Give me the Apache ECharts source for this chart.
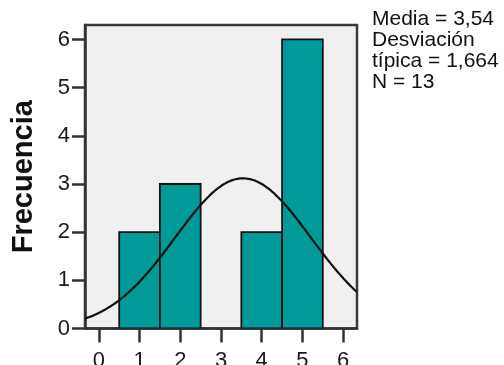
<!DOCTYPE html>
<html>
<head>
<meta charset="utf-8">
<script src="https://cdn.jsdelivr.net/npm/echarts@6/dist/echarts.min.js"></script>
<style>
  html, body { margin: 0; padding: 0; background: #ffffff; }
  #chart { width: 504px; height: 365px; }
</style>
</head>
<body>
<div id="chart"></div>
<script>
// Histogram bins (centres) and their frequencies
const binCenters = [1, 2, 3, 4, 5];
const frequencies = [2, 3, 0, 2, 6];
const binWidth = 1;

// Summary statistics shown beside the plot
const mean = 3.54;
const stdDev = 1.664;
const sampleSize = 13;
const statLines = ['Media = 3,54', 'Desviación', 'típica = 1,664', 'N = 13'];

// Axis ticks
const xTicks = [0, 1, 2, 3, 4, 5, 6];
const yTicks = [0, 1, 2, 3, 4, 5, 6];
const xRange = [-0.34, 6.34];
const yRange = [0, 6.3];

// Fitted normal curve scaled to counts: N * binWidth * pdf(x; mean, sd)
const curve = [];
const steps = 140;
for (let i = 0; i <= steps; i++) {
  const x = xRange[0] + (xRange[1] - xRange[0]) * i / steps;
  const z = (x - mean) / stdDev;
  const y = sampleSize * binWidth * Math.exp(-0.5 * z * z) / (stdDev * Math.sqrt(2 * Math.PI));
  curve.push([x, y]);
}

const barData = binCenters.map((c, i) => [c, frequencies[i]]);

const chart = echarts.init(document.getElementById('chart'), null, { renderer: 'canvas' });
const font = '"Liberation Sans", Arial, sans-serif';

chart.setOption({
  animation: false,
  grid: {
    left: 85, top: 25, width: 272, height: 303.5,
    outerBoundsMode: 'none',
    containLabel: false,
    show: true,
    backgroundColor: '#f0f0f0',
    borderColor: '#3a3a3a',
    borderWidth: 2.5
  },
  xAxis: {
    type: 'value',
    min: xRange[0], max: xRange[1],
    splitLine: { show: false },
    axisLine: { show: true, onZero: false, lineStyle: { color: '#333', width: 2.5 } },
    axisTick: { show: true, customValues: xTicks, length: 14, lineStyle: { color: '#333', width: 2.5 } },
    axisLabel: { customValues: xTicks, fontSize: 22, fontFamily: font, color: '#1a1a1a', margin: 21 }
  },
  yAxis: {
    type: 'value',
    min: yRange[0], max: yRange[1],
    splitLine: { show: false },
    name: 'Frecuencia',
    nameLocation: 'middle',
    nameGap: 47,
    nameTextStyle: { fontSize: 29, fontWeight: 'bold', fontFamily: font, color: '#111' },
    axisLine: { show: true, onZero: false, lineStyle: { color: '#333', width: 2.5 } },
    axisTick: { show: true, customValues: yTicks, length: 13, lineStyle: { color: '#333', width: 2.5 } },
    axisLabel: { customValues: yTicks, fontSize: 22, fontFamily: font, color: '#1a1a1a', margin: 15, padding: [5, 0, 0, 0] }
  },
  graphic: [{
    type: 'text',
    left: 372,
    top: 9,
    style: {
      text: statLines.join('\n'),
      font: '21px ' + font,
      lineHeight: 21,
      fill: '#111'
    }
  }],
  series: [
    {
      type: 'custom',
      data: barData,
      clip: true,
      renderItem: function (params, api) {
        const c = api.value(0);
        const v = api.value(1);
        if (!v) return null;
        const p0 = api.coord([c - binWidth / 2, v]);
        const p1 = api.coord([c + binWidth / 2, 0]);
        return {
          type: 'rect',
          shape: { x: p0[0], y: p0[1], width: p1[0] - p0[0], height: p1[1] - p0[1] },
          style: { fill: '#009a98', stroke: '#111', lineWidth: 1.8 }
        };
      }
    },
    {
      type: 'line',
      data: curve,
      showSymbol: false,
      smooth: true,
      clip: true,
      lineStyle: { color: '#111', width: 2.2 },
      z: 5
    }
  ]
});
</script>
</body>
</html>
